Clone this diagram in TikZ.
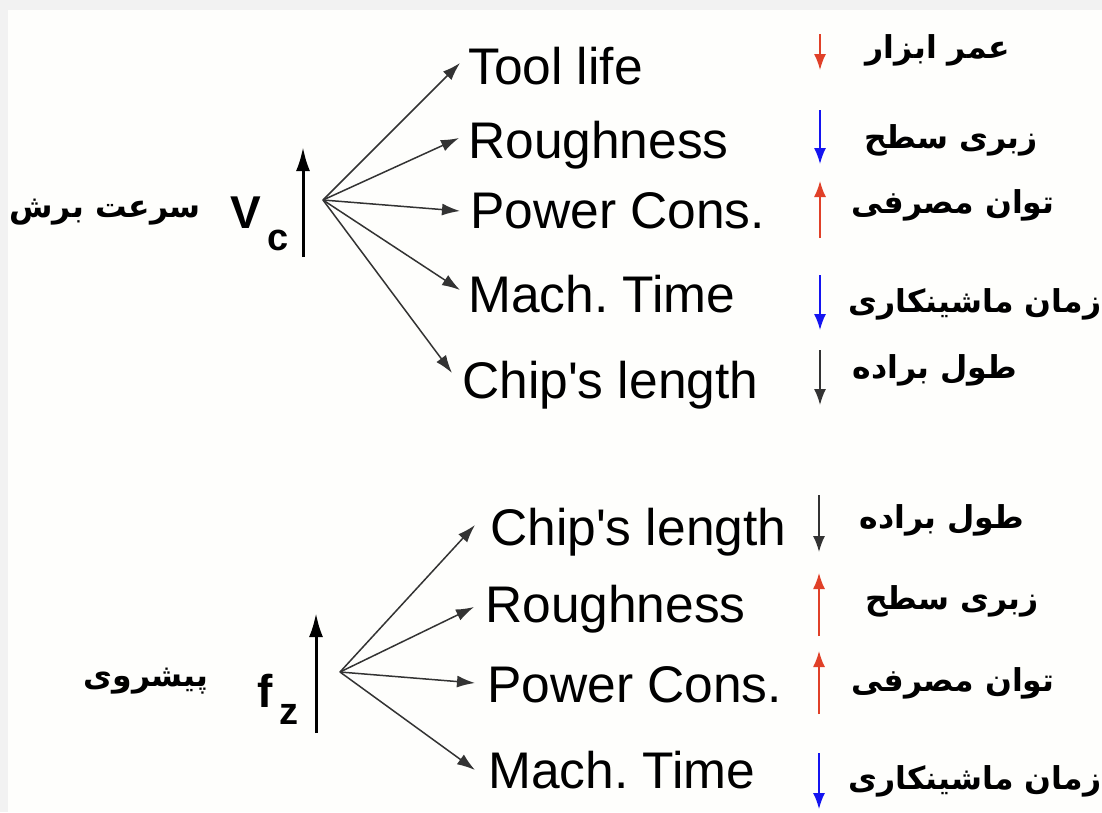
\documentclass[tikz,border=0pt]{standalone}
\usepackage{fontspec}
\usetikzlibrary{arrows.meta}
\TeXXeTstate=1
\frenchspacing
\newfontfamily\lat{Liberation Sans}
\newfontfamily\arabicfont[Script=Arabic]{DejaVu Sans}
\definecolor{bggray}{HTML}{F2F2F2}
\definecolor{paper}{HTML}{FEFEFC}
\definecolor{upred}{HTML}{E04028}
\definecolor{downblue}{HTML}{1414F0}
\definecolor{darkk}{HTML}{333333}
\tikzset{
  lbl/.style={inner sep=0pt, anchor=base west, font=\lat\fontsize{51.5}{60}\selectfont, text height=36pt, text depth=10pt},
  fa/.style={inner sep=0pt, font=\arabicfont\bfseries\fontsize{31.5}{36}\selectfont},
  fan/.style={line width=1.5pt, darkk, -{Latex[length=18pt,width=12pt]}},
  bigup/.style={line width=3pt, black, -{Latex[length=24pt,width=14pt]}},
  small/.style={line width=1.6pt, -{Latex[length=16pt,width=12pt]}},
  sym/.style={inner sep=0pt, anchor=base west, font=\lat\bfseries\fontsize{46}{50}\selectfont},
  sub/.style={inner sep=0pt, anchor=base west, font=\lat\bfseries\fontsize{38}{40}\selectfont},
}
\begin{document}
\begin{tikzpicture}[x=1pt,y=-1pt]
\useasboundingbox (0,0) rectangle (1102,812);
\fill[bggray] (0,0) rectangle (1102,812);
\fill[paper] (8,10) rectangle (1102,812);

% ---------- top group ----------
\node[fa] (sb) at (105,212) {\beginR سرعت برش\endR};
\node[sym] (V) at (230,228) {V};
\node[sub] (c) at (267,250) {c};
\coordinate (va) at (303,257);
\coordinate (vb) at (303,147);
\draw[bigup] (va) -- (vb);
\coordinate (o1) at (323,200);

\node[lbl] (t1) at (468,84) {Tool life};
\node[lbl] (t2) at (468,158) {Roughness};
\node[lbl] (t3) at (470,228) {Power Cons.};
\node[lbl] (t4) at (468,312) {Mach. Time};
\node[lbl] (t5) at (462,398) {Chip's length};

\draw[fan] (o1) -- ([xshift=-8pt,yshift=8pt]t1.west);
\draw[fan] (o1) -- ([xshift=-9pt,yshift=7pt]t2.west);
\draw[fan] (o1) -- ([xshift=-10pt,yshift=4pt]t3.west);
\draw[fan] (o1) -- ([xshift=-8pt,yshift=9pt]t4.west);
\draw[fan] (o1) -- ([xshift=-10pt,yshift=12pt]t5.west);

\coordinate (a1s) at (820,34);  \coordinate (a1e) at (820,70);
\coordinate (a2s) at (820,110); \coordinate (a2e) at (820,164);
\coordinate (a3s) at (820,238); \coordinate (a3e) at (820,181);
\coordinate (a4s) at (820,275); \coordinate (a4e) at (820,330);
\coordinate (a5s) at (820,350); \coordinate (a5e) at (820,405);
\draw[small,upred] (a1s) -- (a1e);
\draw[small,downblue] (a2s) -- (a2e);
\draw[small,upred] (a3s) -- (a3e);
\draw[small,downblue] (a4s) -- (a4e);
\draw[small,darkk] (a5s) -- (a5e);

\node[fa] (p1) at (938,50) {\beginR عمر ابزار\endR};
\node[fa] (p2) at (951,140) {\beginR زبری سطح\endR};
\node[fa] (p3) at (953,205) {\beginR توان مصرفی\endR};
\node[fa] (p4) at (975,304) {\beginR زمان ماشینکاری\endR};
\node[fa] (p5) at (935,370) {\beginR طول براده\endR};

% ---------- bottom group ----------
\node[fa] (pr) at (146,681) {\beginR پیشروی\endR};
\node[sym] (f) at (257,707) {f};
\node[sub] (z) at (279,724) {z};
\coordinate (fa1) at (316,733);
\coordinate (fb1) at (316,613);
\draw[bigup] (fa1) -- (fb1);
\coordinate (o2) at (340,672);

\node[lbl] (u1) at (490,545) {Chip's length};
\node[lbl] (u2) at (485,622) {Roughness};
\node[lbl] (u3) at (487,702) {Power Cons.};
\node[lbl] (u4) at (488,788) {Mach. Time};

\draw[fan] (o2) -- ([xshift=-15pt,yshift=7pt]u1.west);
\draw[fan] (o2) -- ([xshift=-11pt,yshift=2pt]u2.west);
\draw[fan] (o2) -- ([xshift=-12pt,yshift=6pt]u3.west);
\draw[fan] (o2) -- ([xshift=-13pt,yshift=5pt]u4.west);

\coordinate (b1s) at (819,495); \coordinate (b1e) at (819,552);
\coordinate (b2s) at (819,636); \coordinate (b2e) at (819,573);
\coordinate (b3s) at (819,714); \coordinate (b3e) at (819,651);
\coordinate (b4s) at (819,753); \coordinate (b4e) at (819,809);
\draw[small,darkk] (b1s) -- (b1e);
\draw[small,upred] (b2s) -- (b2e);
\draw[small,upred] (b3s) -- (b3e);
\draw[small,downblue] (b4s) -- (b4e);

\node[fa] (q1) at (942,520) {\beginR طول براده\endR};
\node[fa] (q2) at (952,601) {\beginR زبری سطح\endR};
\node[fa] (q3) at (953,683) {\beginR توان مصرفی\endR};
\node[fa] (q4) at (975,781) {\beginR زمان ماشینکاری\endR};
\end{tikzpicture}
\end{document}
